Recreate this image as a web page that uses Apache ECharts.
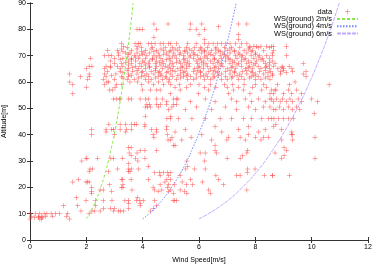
<!DOCTYPE html>
<html><head><meta charset="utf-8">
<script src="https://cdn.jsdelivr.net/npm/echarts@6/dist/echarts.min.js"></script>
<style>html,body{margin:0;padding:0;background:#fff}#c{width:374px;height:265px}</style>
</head><body><div id="c"></div>
<script>
// each row: [altitude, windSpeed, windSpeed, ...]
const rowsLow = [
  [8, 0.0, 0.35, 0.4, 1.4],
  [8.5, 0.15, 0.3, 0.45],
  [9, 0.05, 0.3, 0.4, 0.55, 0.8, 1.3],
  [10, 0.0, 0.2, 0.35, 0.5, 0.6, 0.75, 0.9, 1.05, 1.33, 2.1],
  [11, 1.81, 2.2, 2.3, 2.49, 2.97, 3.14, 3.22, 3.32, 4.27],
  [12, 2.61, 2.85, 3.0, 3.5, 4.38],
  [13, 1.19, 1.69, 2.32, 3.91, 4.5],
  [14, 3.5, 3.91],
  [15, 1.99, 2.32, 2.6, 2.91, 3.37, 3.5, 3.78, 3.9, 4.02, 4.43, 5.08, 5.14, 5.21],
  [16, 1.65, 3.82]
];
const rowsMid1 = [
  [17.8, 2.19, 5.1, 5.57, 6.4],
  [18.5, 2.19, 2.9, 4.55, 4.92, 5.48],
  [19, 2.49, 2.6, 3.62, 4.42, 4.68, 5.0, 5.33, 6.34, 7.7],
  [20, 2.19, 3.25, 3.3, 4.37, 4.88],
  [21, 2.82, 3.3, 4.62, 4.92, 5.13, 5.55, 5.77, 6.87],
  [22, 1.52, 1.99, 2.04, 2.1, 4.79, 5.4, 6.12],
  [23, 1.72, 3.26, 3.29, 3.59, 4.2, 4.86, 4.98, 5.7, 6.7],
  [24.5, 4.62, 4.92, 5.33, 6.6, 7.34, 7.46, 8.32, 8.6, 8.61, 9.21],
  [25.5, 4.43, 4.6, 4.73, 4.88, 5.0, 7.71],
  [26, 2.1, 2.79, 3.55, 3.5],
  [27, 2.13, 2.21, 3.11, 3.5, 3.6, 3.85, 5.53, 5.84, 6.22, 7.73, 7.99],
  [28, 4.2, 5.6],
  [29, 3.5],
  [30, 1.84, 3.83, 5.57, 6.2],
  [31, 1.99, 2.02, 2.4, 2.87, 2.97, 3.29, 3.75, 4.08, 7.0, 7.46, 8.93, 10.12],
  [32, 3.59, 7.55, 9.02],
  [33, 3.52, 3.8, 6.04, 6.22, 6.63, 7.7, 8.7],
  [34, 3.91, 4.08, 4.5, 6.57, 7.73, 9.11],
  [35, 3.5, 3.59, 9.02]
];
const rowsMid2 = [
  [36, 5.1, 5.15, 6.57],
  [38, 4.9, 5.0, 5.39, 6.45, 6.99, 7.64, 8.2, 8.93, 9.32],
  [39, 4.4, 5.04, 5.72, 7.05, 7.46, 8.0, 8.3, 8.46, 10.12],
  [40, 2.19, 3.0, 4.37, 4.88, 6.1, 7.75, 9.29, 9.32],
  [41, 2.7, 3.4, 4.5, 5.15, 6.81, 8.11, 9.29],
  [42, 2.19, 2.7, 2.9, 2.96, 3.2, 3.43, 3.6, 4.31, 4.5, 4.85, 5.51, 7.4, 8.35, 8.93],
  [43, 4.08, 4.86, 6.57, 7.76, 8.64],
  [44, 2.8, 3.2, 3.4, 3.6, 3.72, 3.78, 4.08, 8.73],
  [46, 4.86, 4.98, 5.27, 5.75, 6.22, 6.75, 7.16, 7.58, 7.87, 8.23, 8.46, 8.58, 8.66, 8.82, 9.0, 9.17, 9.35],
  [47, 4.09, 5.0],
  [48, 10.09],
  [49.5, 4.92, 5.51, 6.45, 7.34, 8.0, 8.64, 8.73, 9.0, 9.32, 9.58],
  [50.5, 4.09, 4.17, 4.27, 4.57, 5.04, 5.92, 6.93, 7.76, 8.29, 8.52, 8.85, 9.17, 9.47],
  [51.5, 4.15, 4.25, 4.5, 4.63, 4.85, 5.1, 5.2],
  [52.5, 4.86, 5.69, 6.57, 7.34, 7.87, 8.35, 8.64, 8.88, 9.11, 9.32, 9.64, 10.2],
  [53.5, 2.96, 3.06, 3.18, 3.2, 3.5, 3.6, 3.91, 4.1, 4.2, 4.5, 4.7, 5.1, 5.21, 5.25, 6.22, 7.16, 7.64, 8.11, 8.52, 8.58, 8.76, 8.97, 9.23, 9.52, 10.0],
  [55.5, 1.52, 4.98, 5.98, 7.05, 7.81, 8.52, 8.64, 9.0, 9.29, 9.64],
  [57, 2.82, 2.94, 4.0, 4.27, 4.5, 4.62, 5.33, 6.34, 7.22, 7.58, 8.23, 8.58, 8.7, 8.73, 9.17, 9.47]
];
const rowsBand = [
  [58, 2.0, 3.02, 5.15, 5.55, 6.2, 6.6, 7.0, 7.4, 7.9, 8.4],
  [59, 1.52, 2.65, 3.08, 3.26, 3.97, 4.38, 4.74, 5.0, 5.3, 5.7, 6.0, 6.4, 6.9, 7.2, 7.6, 8.0, 8.3, 8.78, 9.21, 10.62],
  [60, 1.4, 2.73, 2.79, 3.55, 3.82, 4.21, 4.56, 4.92, 9.41],
  [61, 2.05, 2.6, 3.0, 3.45, 3.7, 4.1, 4.3, 4.7, 4.95, 5.2, 5.6, 5.8, 6.2, 6.4, 6.8, 7.0, 7.4, 7.6, 8.0, 8.2, 8.52],
  [62, 1.8, 2.1, 2.7, 3.25, 3.5, 3.95, 4.2, 4.55, 4.8, 5.05, 5.45, 5.7, 6.05, 6.3, 6.55, 6.95, 7.2, 7.5, 7.85, 8.1, 8.45, 9.8],
  [63, 1.4, 2.1, 2.65, 3.05, 3.5, 3.8, 4.15, 4.4, 4.65, 5.0, 5.35, 5.6, 5.9, 6.25, 6.5, 6.8, 7.1, 7.45, 7.7, 8.0, 8.3, 8.6, 8.9, 9.7],
  [64, 2.75, 3.2, 3.65, 4.0, 4.3, 4.6, 4.9, 5.15, 5.5, 5.8, 6.05, 6.35, 6.6, 6.95, 7.25, 7.55, 7.85, 8.15, 8.55, 8.9, 9.32, 9.8],
  [65, 2.0, 2.65, 3.2, 3.5, 3.85, 4.1, 4.45, 4.7, 5.0, 5.25, 5.55, 5.85, 6.15, 6.4, 6.7, 7.0, 7.3, 7.65, 7.9, 8.2, 8.5, 8.8, 9.0, 9.3],
  [66, 2.1, 2.2, 2.7, 2.85, 3.1, 3.3, 3.75, 3.95, 4.25, 4.5, 4.8, 5.1, 5.4, 5.65, 6.0, 6.3, 6.6, 6.85, 7.2, 7.5, 7.8, 8.1, 8.4, 8.65, 8.95, 9.2],
  [67, 3.0, 3.25, 3.6, 3.9, 4.2, 4.45, 4.75, 5.05, 5.35, 5.65, 5.95, 6.25, 6.5, 6.8, 7.1, 7.4, 7.7, 8.0, 8.35, 8.7, 9.7],
  [68, 2.85, 3.5, 3.75, 4.0, 4.25, 4.5, 4.7, 5.0, 5.3, 5.6, 5.9, 6.15, 6.4, 6.7, 6.95, 7.2, 7.5, 7.75, 8.05, 8.3, 8.6],
  [69, 2.15, 3.0, 3.3, 3.6, 3.85, 4.1, 4.35, 4.65, 4.95, 5.2, 5.5, 5.8, 6.05, 6.3, 6.55, 6.8, 7.05, 7.35, 7.65, 7.95, 8.25, 8.5],
  [70, 2.65, 2.8, 2.9, 3.15, 3.7, 3.9, 4.15, 4.4, 4.6, 4.9, 5.15, 5.45, 5.7, 5.95, 6.25, 6.5, 6.75, 7.0, 7.3, 7.55, 7.85, 8.15, 8.4, 8.6, 9.11],
  [71, 3.15, 3.4, 3.55, 3.8, 4.05, 4.25, 4.55, 4.85, 5.1, 5.35, 5.6, 5.8, 6.1, 6.35, 6.6, 6.85, 7.1, 7.4, 7.7, 8.0, 8.6],
  [72, 2.75, 3.1, 3.6, 4.1, 4.5, 4.75, 5.0, 5.25, 5.5, 5.75, 6.0, 6.2, 6.45, 6.7, 7.0, 7.25, 7.6, 7.9, 8.3, 8.65],
  [73, 3.45, 3.95, 4.35, 4.8, 5.05, 5.3, 5.55, 5.85, 6.05, 6.3, 6.6, 6.9, 7.15, 7.45, 7.8, 8.1, 8.5]
];
const rowsBandHalf = [
  [61.5, 3.3, 3.85, 4.45, 4.85, 5.35, 5.9, 6.5, 7.15, 7.8, 8.35],
  [62.5, 2.9, 3.6, 4.05, 4.65, 5.25, 5.55, 6.15, 6.7, 7.35, 7.95, 8.6],
  [63.5, 3.3, 3.95, 4.55, 4.85, 5.45, 6.05, 6.65, 7.25, 7.9, 8.45, 9.1],
  [64.5, 3.45, 3.8, 4.45, 5.05, 5.35, 5.95, 6.5, 7.1, 7.7, 8.35, 9.0],
  [65.5, 2.85, 3.65, 4.25, 4.9, 5.4, 6.0, 6.55, 7.15, 7.75, 8.35, 8.95],
  [66.5, 3.5, 4.1, 4.65, 4.95, 5.55, 6.15, 6.75, 7.35, 7.95, 8.5],
  [67.5, 3.4, 4.05, 4.6, 5.2, 5.5, 6.1, 6.65, 7.25, 7.85, 8.5],
  [68.5, 3.2, 3.6, 4.35, 4.85, 5.45, 6.0, 6.55, 7.1, 7.6, 8.2],
  [69.5, 3.45, 3.75, 4.5, 5.05, 5.65, 6.2, 6.95, 7.5, 8.1],
  [70.5, 3.5, 4.0, 4.75, 5.3, 5.85, 6.4, 6.9, 7.45, 8.0],
  [71.5, 3.3, 3.95, 4.4, 4.95, 5.5, 6.2, 6.75, 7.25, 7.85],
  [72.5, 3.25, 3.8, 4.3, 4.65, 5.15, 5.65, 6.1, 6.6, 7.1, 7.75]
];
const rowsTop = [
  [73.5, 3.32, 3.8, 7.81, 7.95, 8.05, 8.2, 8.4, 8.58, 8.64, 9.1],
  [74.5, 3.24, 3.73, 3.85, 3.91, 4.2, 4.32, 4.44, 4.62, 4.74, 4.92, 5.0, 5.2, 5.6, 5.9, 6.2, 6.35, 6.5, 6.65, 6.8, 6.95, 7.1, 7.3, 7.5, 7.7],
  [76, 6.2, 7.4],
  [77, 4.4],
  [78, 6.0, 7.4],
  [80, 3.8, 3.9, 4.0, 4.5, 5.68, 5.9, 6.2],
  [81, 6.7],
  [82, 4.4, 4.9, 5.7, 6.1, 7.4, 7.7]
];
// model curves: altitude and wind speed pairs
const curveAlt = [8, 10, 13, 16, 20, 25, 30, 35, 40, 50, 60, 70, 80, 90];
const ws2 = [2.0, 2.11, 2.26, 2.38, 2.51, 2.66, 2.78, 2.89, 2.99, 3.16, 3.31, 3.44, 3.56, 3.66];
const ws4 = [4.0, 4.23, 4.51, 4.76, 5.03, 5.32, 5.57, 5.78, 5.98, 6.33, 6.62, 6.88, 7.11, 7.32];
const ws6 = [6.0, 6.34, 6.77, 7.14, 7.54, 7.98, 8.35, 8.67, 8.97, 9.49, 9.93, 10.32, 10.67, 10.98];
const seriesNames = ['data', 'WS(ground) 2m/s', 'WS(ground) 4m/s', 'WS(ground) 6m/s'];

const pts = [].concat(rowsLow, rowsMid1, rowsMid2, rowsBand, rowsBandHalf, rowsTop)
  .flatMap(r => r.slice(1).map(v => [v, r[0]]));
const curve = ws => ws.map((v, i) => [v, curveAlt[i]]);

const FONT = 'Liberation Sans';
const plus = 'path://M4.5,0H5.5V4.5H10V5.5H5.5V10H4.5V5.5H0V4.5H4.5Z';
const chart = echarts.init(document.getElementById('c'), null, {renderer: 'canvas'});
const axLine = {show: true, lineStyle: {color: '#333', width: 1}};
const tick = {inside: true, length: 3, lineStyle: {color: '#333'}};
chart.setOption({
  animation: false,
  backgroundColor: '#fff',
  grid: {left: 30, right: 6, top: 3, bottom: 25, containLabel: false, outerBoundsMode: 'none'},
  legend: {
    orient: 'vertical', right: 15, top: 8, align: 'right', padding: 0,
    itemWidth: 21, itemHeight: 5, itemGap: 0,
    textStyle: {fontFamily: FONT, fontSize: 7.4, color: '#000', lineHeight: 7.3, height: 7.3},
    data: [
      {name: seriesNames[0], icon: plus},
      {name: seriesNames[1], itemStyle: {opacity: 0}},
      {name: seriesNames[2], itemStyle: {opacity: 0}},
      {name: seriesNames[3], itemStyle: {opacity: 0}}
    ]
  },
  xAxis: [{
    type: 'value', min: 0, max: 12, interval: 2,
    name: 'Wind Speed[m/s]', nameLocation: 'middle', nameGap: 17,
    nameTextStyle: {fontFamily: FONT, fontSize: 7, color: '#000'},
    axisLine: axLine, axisTick: tick,
    axisLabel: {fontFamily: FONT, fontSize: 7, color: '#000', margin: 4},
    splitLine: {show: false}
  }, {
    type: 'value', min: 0, max: 12, interval: 2, position: 'top',
    axisLine: axLine, axisTick: tick,
    axisLabel: {show: false}, splitLine: {show: false}
  }],
  yAxis: [{
    type: 'value', min: 0, max: 90, interval: 10,
    name: 'Altitude[m]', nameLocation: 'middle', nameGap: 18, nameRotate: 90,
    nameTextStyle: {fontFamily: FONT, fontSize: 7, color: '#000'},
    axisLine: axLine, axisTick: tick,
    axisLabel: {fontFamily: FONT, fontSize: 7, color: '#000', margin: 4},
    splitLine: {show: false}
  }, {
    type: 'value', min: 0, max: 90, interval: 10, position: 'right',
    axisLine: axLine, axisTick: tick,
    axisLabel: {show: false}, splitLine: {show: false}
  }],
  series: [
    {name: seriesNames[0], type: 'scatter', data: pts, symbol: plus, symbolSize: 5,
     itemStyle: {color: '#ff3838', opacity: 0.85}},
    {name: seriesNames[1], type: 'line', data: curve(ws2), smooth: true, showSymbol: false, symbol: 'none',
     lineStyle: {color: '#88e84a', width: 1, type: [3, 2]}, itemStyle: {color: '#88e84a'}},
    {name: seriesNames[2], type: 'line', data: curve(ws4), smooth: true, showSymbol: false, symbol: 'none',
     lineStyle: {color: '#7a86ff', width: 1, type: [1.5, 1.5]}, itemStyle: {color: '#7a86ff'}},
    {name: seriesNames[3], type: 'line', data: curve(ws6), smooth: true, showSymbol: false, symbol: 'none',
     lineStyle: {color: '#c4a8ff', width: 1, type: [4, 1]}, itemStyle: {color: '#c4a8ff'}}
  ]
});
</script></body></html>
